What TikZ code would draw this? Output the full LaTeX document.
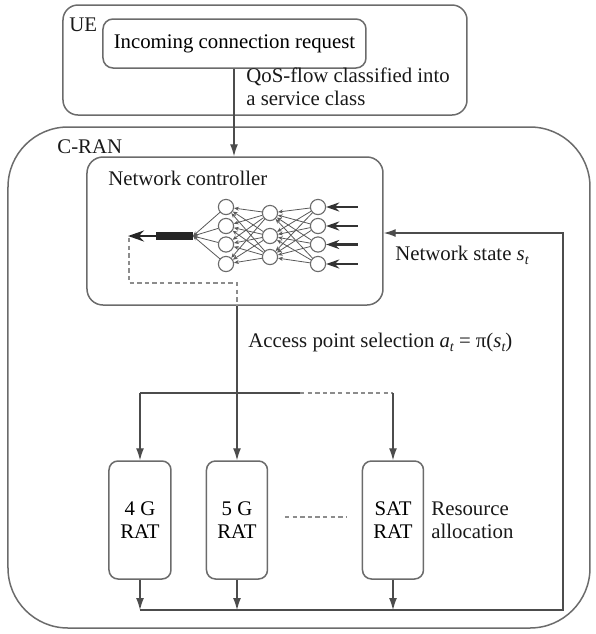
\documentclass[tikz,border=0pt]{standalone}
\usepackage{fontspec}
\setmainfont{Liberation Serif}
\usetikzlibrary{arrows.meta}
\definecolor{boxgray}{gray}{0.42}
\definecolor{linegray}{gray}{0.30}
\newcommand{\sub}[1]{\raisebox{-0.45ex}{\fontsize{7}{7}\selectfont\itshape #1}}
\begin{document}
\begin{tikzpicture}[x=0.5pt,y=-0.5pt,
  font=\fontsize{10.4}{11.5}\selectfont,
  box/.style={draw=boxgray, line width=0.75pt, rounded corners=#1, inner sep=0pt},
  lbl/.style={anchor=west, inner sep=0pt, align=left, text=black!90},
  conn/.style={draw=linegray, line width=0.6pt},
  arr/.style={conn, -{Latex[length=6pt,width=4pt]}},
  dashconn/.style={draw=black!45, line width=0.6pt, dash pattern=on 2.2pt off 1.6pt},
  neuron/.style={circle, draw=boxgray, line width=0.55pt, fill=white, minimum size=7.6pt, inner sep=0pt},
  nnedge/.style={draw=black!65, line width=0.4pt, -{Stealth[length=2.4pt,width=2pt]}},
  inarr/.style={draw=black!80, line width=1.4pt, -{Stealth[length=6.5pt,width=4.5pt]}},
  ]
\useasboundingbox (0,0) rectangle (596,634);

% containers
\node[box=7.5pt, minimum width=202pt, minimum height=55pt] (ue) at (265,60) {};
\node[lbl] (uelbl) at (69,25) {UE};
\node[box=5pt, minimum width=131.5pt, minimum height=24.5pt] (req) at (234.5,43.5) {Incoming connection request};

\node[box=30pt, minimum width=291pt, minimum height=250.5pt] (cran) at (299,377.5) {};
\node[lbl] (cranlbl) at (57,147) {C-RAN};

\node[box=8pt, minimum width=148pt, minimum height=74pt] (nc) at (235,231) {};
\node[lbl] (nclbl) at (108,178) {Network controller};

% connection request arrow
\draw[arr] (req.south -| 234,0) -- (nc.north -| 234,0);
\node[lbl] (qos) at (246,87) {QoS-flow classified into\\a service class};

% neural network
\foreach \i/\y in {1/207,2/226,3/244.5,4/264}{
  \node[neuron] (o\i) at (226,\y) {};
  \node[neuron] (n\i) at (318,\y) {};
}
\foreach \i/\y in {1/213,2/236,3/257}{
  \node[neuron] (h\i) at (270,\y) {};
}
\coordinate (outpt) at (193,236);
\foreach \a in {1,2,3,4}{
  \foreach \b in {1,2,3}{
    \draw[nnedge] (n\a) -- (h\b);
    \draw[nnedge] (h\b) -- (o\a);
  }
  \draw[nnedge] (o\a) -- (outpt);
}
\foreach \i in {1,2,3,4}{
  \coordinate (in\i) at (358,0 |- n\i);
  \draw[inarr] (in\i) -- (n\i);
}
\coordinate (barL) at (156,236);
\coordinate (outtip) at (128,236);
\draw[line width=4pt, draw=black!85] (outpt) -- (barL);
\draw[draw=black!85, line width=1.3pt, -{Stealth[length=8pt,width=5.5pt]}] (barL) -- (outtip);

% dashed selection path
\coordinate (d1) at (129,238);
\coordinate (d2) at (129,283);
\coordinate (d3) at (237,283);
\draw[dashconn] (d1) -- (d2) -- (d3) -- (nc.south -| d3);

% access point selection
\coordinate (sp) at (237,393);
\coordinate (spL) at (140,393);
\coordinate (spM) at (300,393);
\coordinate (spR) at (393,393);
\draw[conn] (nc.south -| sp) -- (sp);
\node[lbl] (apsel) at (248,342) {Access point selection {\itshape a}\sub{t} = π({\itshape s}\sub{t})};
\draw[conn] (spL) -- (spM);
\draw[dashconn] (spM) -- (spR);

% RATs
\node[box=4.5pt, minimum width=31pt, minimum height=59pt, align=center] (rat4) at (140,520) {4 G\\RAT};
\node[box=4.5pt, minimum width=30.5pt, minimum height=59pt, align=center] (rat5) at (237,520) {5 G\\RAT};
\node[box=4.5pt, minimum width=30.5pt, minimum height=59pt, align=center] (ratS) at (393,520) {SAT\\RAT};
\draw[dashconn] (285,517) -- (347,517);
\node[lbl] (resalloc) at (431,520) {Resource\\allocation};

\draw[arr] (spL) -- (rat4.north);
\draw[arr] (sp) -- (rat5.north);
\draw[arr] (spR) -- (ratS.north);

\coordinate (b4) at (140,610);
\coordinate (b5) at (237,610);
\coordinate (bS) at (393,610);
\coordinate (bR) at (563,610);
\coordinate (tR) at (563,233);
\draw[arr] (rat4.south) -- (b4);
\draw[arr] (rat5.south) -- (b5);
\draw[arr] (ratS.south) -- (bS);
\draw[arr] (b4) -- (bR) -- (tR) -- (nc.east |- tR);
\node[lbl] (nstate) at (395,255) {Network state {\itshape s}\sub{t}};
\end{tikzpicture}
\end{document}
